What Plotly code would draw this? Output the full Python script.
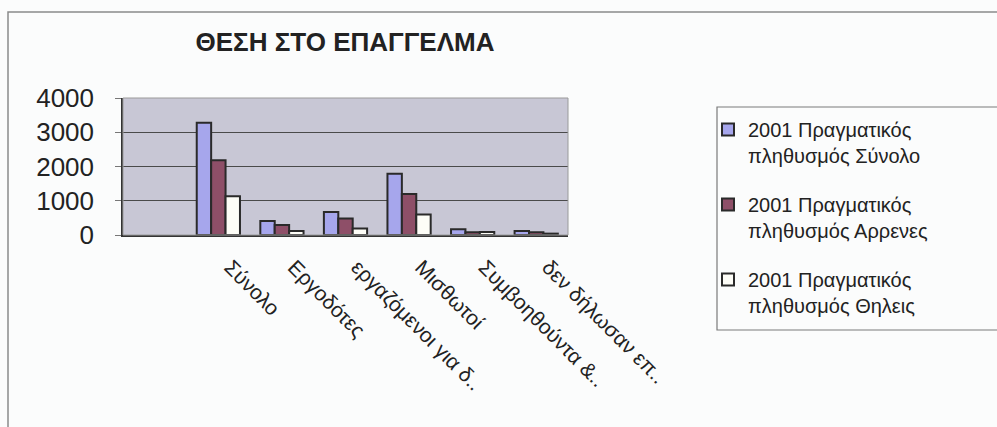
import plotly.graph_objects as go

# ---- data ----
categories = ["Σύνολο", "Εργοδότες", "εργαζόμενοι για δ..", "Μισθωτοί",
              "Συμβοηθούντα &..", "δεν δήλωσαν επ.."]
series_names = ["2001 Πραγματικός<br>πληθυσμός Σύνολο",
                "2001 Πραγματικός<br>πληθυσμός Αρρενες",
                "2001 Πραγματικός<br>πληθυσμός Θηλεις"]
total_vals = [3280, 410, 670, 1790, 170, 120]
male_vals = [2180, 290, 480, 1200, 80, 80]
female_vals = [1130, 120, 190, 600, 90, 40]
y_ticks = [0, 1000, 2000, 3000, 4000]
title_text = "ΘΕΣΗ ΣΤΟ ΕΠΑΓΓΕΛΜΑ"

colors = ["#a6a6ec", "#8e4f68", "#fdfdf7"]
W, H = 997, 427
L, R, T, B = 123, 568, 98, 235  # plot area in px

def px_x(x):
    return (x - L) / (R - L)

def px_y(y):
    return (B - y) / (B - T)

fig = go.Figure()
for i, (name, vals) in enumerate(zip(series_names, [total_vals, male_vals, female_vals])):
    fig.add_trace(go.Bar(
        x=list(range(len(categories))), y=vals, name=name,
        legendgroup=f"g{i}",
        marker=dict(color=colors[i], line=dict(color="#2a2a2a", width=2)),
    ))

fig.update_layout(
    width=W, height=H,
    margin=dict(l=L, r=W - R, t=T, b=H - B, autoexpand=False),
    paper_bgcolor="#fbfcfc",
    plot_bgcolor="#c8c7d5",
    barmode="group", bargap=0.32, bargroupgap=0.0,
    font=dict(family="Liberation Sans, Arial, sans-serif", color="#222"),
    title=dict(text="<b>" + title_text + "</b>", x=345 / W, xanchor="center",
               y=1 - 42 / H, yanchor="middle", xref="container", yref="container",
               font=dict(size=26, color="#222")),
    showlegend=True,
    legend=dict(x=px_x(708), y=px_y(110), xanchor="left", yanchor="top",
                font=dict(size=20, color="#222"), valign="top",
                tracegroupgap=20, bgcolor="rgba(0,0,0,0)", borderwidth=0,
                traceorder="grouped", maxheight=600),
    xaxis=dict(
        range=[-1.5, 5.5], tickmode="array",
        tickvals=list(range(len(categories))), ticktext=categories,
        tickangle=45, tickfont=dict(size=21, color="#222"),
        showline=True, linecolor="#333", linewidth=1.5,
        showgrid=False, zeroline=False, automargin=False,
        ticks="", ticklabelstandoff=10, ticklabelshift=12,
    ),
    yaxis=dict(
        range=[0, 4000], tickmode="array", tickvals=y_ticks,
        ticktext=[str(v) for v in y_ticks],
        tickfont=dict(size=26, color="#222"),
        showline=True, linecolor="#333", linewidth=1.5,
        showgrid=True, gridcolor="#4a4a4a", gridwidth=1,
        zeroline=False, automargin=False,
        ticks="outside", ticklen=6, tickcolor="#777",
        ticklabelstandoff=16,
    ),
    shapes=[
        # outer chart border (only top and left visible in frame)
        dict(type="rect", xref="paper", yref="paper",
             x0=px_x(8), x1=px_x(1010), y0=px_y(440), y1=px_y(12),
             line=dict(color="#8a8a8a", width=1.5), layer="below"),
        # plot area border
        dict(type="rect", xref="paper", yref="paper", x0=0, x1=1, y0=0, y1=1,
             line=dict(color="#9a9a9a", width=1)),
        # legend box
        dict(type="rect", xref="paper", yref="paper",
             x0=px_x(717), x1=px_x(1010), y0=px_y(330), y1=px_y(107),
             line=dict(color="#7a7a7a", width=1.2)),
    ],
)

fig.write_html("out.html", config={"displayModeBar": False},
               post_script="document.body.style.margin='0';document.body.style.overflow='hidden';")
